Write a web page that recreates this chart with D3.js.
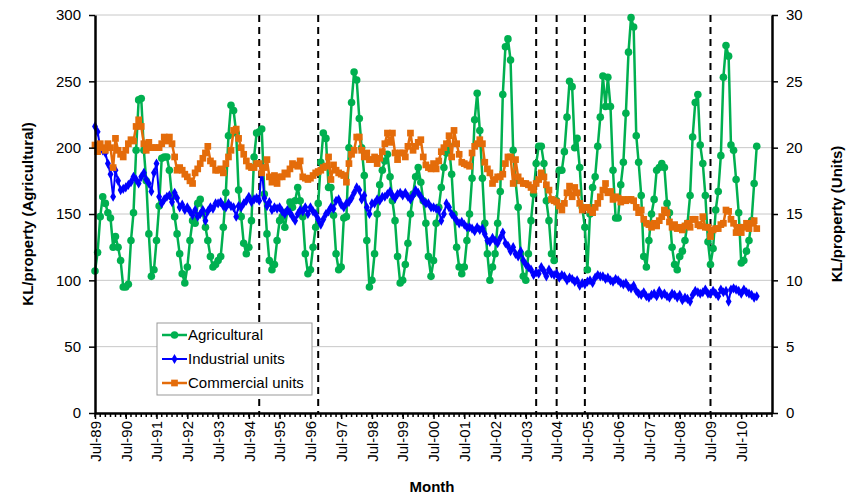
<!DOCTYPE html>
<html>
<head>
<meta charset="utf-8">
<script src="https://cdn.jsdelivr.net/npm/d3@7"></script>
<style>
  body { margin: 0; background: #fff; }
  svg { font-family: "Liberation Sans", Arial, sans-serif; }
</style>
</head>
<body>
<div id="chart"></div>
<script>
// monthly categories, Jul-89 .. Jan-11
const months = d3.timeMonth.range(new Date(1989, 6, 1), new Date(2011, 1, 1));

// KL/property, left axis
const agricultural = [
  107, 121, 148, 163, 158, 151, 147, 125, 133, 125, 115, 95,
  95, 97, 130, 151, 198, 236, 237, 198, 175, 135, 103, 108,
  130, 156, 192, 193, 193, 183, 163, 148, 135, 120, 105, 98,
  110, 130, 145, 143, 158, 161, 151, 140, 130, 118, 110, 112,
  115, 118, 140, 166, 209, 232, 228, 211, 168, 148, 128, 120,
  125, 145, 193, 211, 212, 214, 165, 135, 115, 108, 112, 130,
  145, 148, 140, 152, 159, 155, 160, 170, 160, 148, 120, 105,
  108, 125, 140, 158, 189, 211, 207, 170, 170, 149, 120, 108,
  110, 147, 148, 200, 234, 257, 251, 222, 200, 179, 130, 95,
  100, 120, 150, 172, 183, 190, 195, 178, 160, 145, 118, 98,
  100, 112, 128, 150, 165, 178, 185, 174, 160, 143, 118, 103,
  115, 143, 155, 170, 185, 196, 201, 180, 150, 125, 110, 105,
  110, 130, 150, 177, 221, 241, 213, 177, 143, 120, 100, 110,
  120, 143, 167, 240, 276, 282, 266, 198, 175, 155, 120, 103,
  100, 120, 145, 165, 188, 201, 201, 188, 160, 145, 120, 115,
  160, 183, 183, 197, 223, 250, 246, 200, 207, 185, 155, 140,
  108, 150, 170, 178, 201, 223, 254, 231, 253, 231, 183, 147,
  147, 172, 189, 226, 272, 298, 291, 209, 189, 164, 118, 110,
  130, 150, 161, 183, 185, 188, 185, 158, 151, 125, 112, 108,
  118, 122, 130, 143, 164, 208, 234, 240, 202, 188, 164, 129,
  112, 124, 153, 167, 194, 253, 277, 269, 202, 198, 176, 151,
  113, 115, 122, 130, 145, 173, 201
];

// KL/property, right axis
const industrial = [
  21.6, 21.2, 20.0, 19.8, 19.6, 18.8, 18.0, 16.3, 18.3, 17.5, 16.8, 16.9,
  17.0, 17.2, 17.4, 17.8, 17.6, 17.3, 17.8, 18.1, 17.6, 17.3, 16.7, 18.1,
  18.8, 16.3, 15.8, 16.1, 16.3, 16.4, 15.9, 16.6, 16.2, 15.5, 15.7, 15.3,
  15.5, 15.2, 14.9, 15.3, 14.8, 15.0, 15.3, 14.5, 15.2, 15.5, 15.4, 15.8,
  15.8, 15.9, 15.6, 15.5, 15.8, 15.6, 15.5, 14.8, 15.6, 15.5, 15.8, 16.0,
  16.3, 15.9, 16.1, 16.2, 16.0, 18.5, 16.2, 15.6, 15.9, 15.3, 15.5, 15.4,
  15.5, 15.2, 15.0, 15.3, 15.1, 14.8, 14.5, 15.0, 15.3, 15.2, 15.5, 15.0,
  15.5, 15.2, 15.0, 14.6, 14.2, 14.6, 15.0, 15.2, 15.5, 15.4, 16.0, 16.1,
  15.7, 15.5, 15.8, 15.9, 16.2, 16.6, 17.0, 16.8, 16.1, 16.4, 15.5, 15.0,
  15.8, 15.8, 16.1, 16.0, 16.3, 16.3, 16.5, 16.7, 16.4, 16.2, 16.5, 16.6,
  16.4, 16.6, 16.3, 16.1, 16.4, 16.8, 16.6, 16.3, 16.0, 15.8, 15.8, 15.5,
  15.5, 15.4, 15.3, 14.5, 15.0, 15.8, 15.5, 15.0, 14.8, 14.5, 14.3, 14.4,
  14.2, 14.0, 14.0, 13.9, 13.7, 14.0, 13.8, 13.9, 13.5, 13.0, 12.9, 13.2,
  13.0, 12.8, 13.2, 13.6, 12.8, 12.6, 12.2, 12.5, 12.0, 11.8, 12.2, 11.5,
  11.2, 11.0, 10.8, 10.4, 10.6, 10.5, 11.0, 10.7, 10.3, 10.8, 10.5, 10.4,
  10.5, 10.2, 10.4, 10.3, 10.0, 10.2, 10.1, 9.9, 10.0, 9.6, 9.8, 9.7,
  9.9, 10.0, 9.8, 10.2, 10.4, 10.3, 10.3, 10.1, 10.2, 10.0, 9.9, 10.1,
  10.0, 9.8, 9.7, 9.8, 9.5, 9.4, 9.6, 9.2, 9.0, 8.9, 9.1, 8.8,
  8.7, 8.9, 9.0, 8.8, 9.2, 8.9, 9.0, 8.8, 8.7, 9.0, 8.9, 8.7,
  8.9, 8.5, 8.7, 8.6, 8.4, 8.9, 9.2, 9.1, 9.0, 9.1, 9.3, 9.0,
  9.0, 9.2, 9.0, 8.8, 9.3, 9.1, 9.2, 8.4, 9.3, 9.4, 9.3, 9.2,
  9.0, 9.3, 9.1, 9.0, 8.9, 8.7, 8.8
];

const commercial = [
  20.2, 19.7, 20.3, 20.0, 19.8, 20.3, 20.0, 18.5, 20.7, 19.8, 19.5, 19.3,
  19.8, 20.3, 20.6, 20.5, 21.6, 22.1, 21.6, 20.3, 19.8, 20.4, 20.0, 20.0,
  20.0, 20.0, 20.3, 20.8, 20.5, 20.8, 20.3, 19.3, 18.3, 18.5, 18.3, 18.0,
  17.8, 17.5, 17.3, 18.1, 18.4, 18.8, 19.2, 19.6, 20.1, 19.0, 18.8, 18.3,
  18.3, 18.4, 18.1, 18.8, 19.3, 19.8, 21.3, 21.4, 20.7, 20.0, 19.5, 19.0,
  18.6, 18.5, 18.5, 18.8, 18.8, 18.1, 18.5, 19.1, 17.8, 17.4, 17.9, 17.3,
  17.8, 17.8, 18.1, 18.0, 18.4, 18.8, 18.7, 18.6, 19.0, 17.8, 17.7, 17.6,
  17.7, 17.9, 18.1, 18.2, 18.3, 18.5, 18.6, 19.3, 17.6, 18.7, 18.3, 18.1,
  18.0, 17.9, 17.4, 18.8, 19.5, 19.8, 20.8, 20.8, 19.8, 19.3, 19.6, 19.1,
  19.1, 19.3, 18.8, 19.2, 19.7, 20.3, 21.1, 20.4, 21.1, 19.6, 19.1, 19.6,
  19.6, 19.3, 20.1, 21.1, 19.8, 20.1, 20.4, 20.6, 19.3, 18.7, 18.5, 18.4,
  18.8, 18.4, 19.0, 19.7, 20.0, 20.3, 20.9, 19.3, 21.3, 20.3, 19.5, 18.9,
  18.8, 18.7, 18.6, 19.6, 20.1, 20.3, 20.6, 20.3, 18.9, 18.4, 18.1, 17.3,
  17.6, 17.8, 17.8, 18.0, 18.8, 19.3, 19.3, 17.3, 19.1, 17.8, 17.5, 17.3,
  17.3, 17.2, 17.0, 16.8, 17.3, 17.6, 18.1, 17.8, 17.2, 16.8, 16.1, 16.0,
  15.9, 15.6, 15.3, 15.8, 16.6, 17.1, 16.3, 17.0, 16.6, 15.8, 15.3, 15.5,
  15.5, 15.3, 15.1, 15.5, 15.8, 16.3, 16.8, 17.3, 16.6, 16.7, 16.1, 16.3,
  16.2, 15.9, 16.1, 16.0, 16.1, 16.1, 16.0, 15.5, 15.1, 15.3, 14.6, 14.3,
  14.2, 14.0, 14.3, 14.1, 14.5, 14.8, 15.3, 15.1, 14.4, 14.0, 14.2, 13.9,
  14.0, 13.8, 14.1, 14.3, 14.0, 14.6, 14.6, 14.2, 14.1, 14.8, 14.0, 14.0,
  13.3, 13.8, 13.9, 13.9, 14.2, 14.3, 15.3, 15.2, 14.6, 14.3, 13.6, 14.0,
  13.6, 14.0, 14.3, 13.9, 14.3, 14.5, 13.9
];

// months marked with vertical dashed lines
const eventMonths = ['1994-11', '1996-10', '2003-11', '2004-07', '2005-06', '2009-07'];

const leftTicks = [0, 50, 100, 150, 200, 250, 300];
const rightTicks = [0, 5, 10, 15, 20, 25, 30];

const width = 854;
const height = 497;
const margin = { top: 15, right: 82, bottom: 84, left: 95 };

const svg = d3.select('#chart')
  .append('svg')
  .attr('width', width)
  .attr('height', height);

const x = d3.scaleTime()
  .domain([new Date(1989, 6, 1), new Date(2011, 6, 1)])
  .range([margin.left, width - margin.right]);

const yL = d3.scaleLinear()
  .domain([0, 300])
  .range([height - margin.bottom, margin.top]);

const yR = d3.scaleLinear()
  .domain([0, 30])
  .range([height - margin.bottom, margin.top]);

const x0 = x.range()[0], x1 = x.range()[1];
const yBottom = yL(0);

// gridlines
svg.append('g')
  .selectAll('line')
  .data(leftTicks.slice(1))
  .join('line')
  .attr('x1', x0).attr('x2', x1)
  .attr('y1', d => yL(d)).attr('y2', d => yL(d))
  .attr('stroke', '#c8c8c8')
  .attr('stroke-width', 1);

// dashed event lines
const parseMonth = d3.timeParse('%Y-%m');
svg.append('g')
  .selectAll('line')
  .data(eventMonths)
  .join('line')
  .attr('x1', d => x(parseMonth(d))).attr('x2', d => x(parseMonth(d)))
  .attr('y1', yL(300)).attr('y2', yBottom)
  .attr('stroke', '#000')
  .attr('stroke-width', 2)
  .attr('stroke-dasharray', '7,5');

// series
const series = [
  { name: 'Agricultural', values: agricultural, y: yL, color: '#00b050', width: 2.5, symbol: d3.symbolCircle, size: 45 },
  { name: 'Industrial units', values: industrial, y: yR, color: '#0000ff', width: 2, symbol: d3.symbolDiamond, size: 30 },
  { name: 'Commercial units', values: commercial, y: yR, color: '#e46c0a', width: 2.5, symbol: d3.symbolSquare, size: 45 }
];

series.forEach(s => {
  const line = d3.line()
    .x((d, i) => x(months[i]))
    .y(d => s.y(d));

  svg.append('path')
    .datum(s.values)
    .attr('fill', 'none')
    .attr('stroke', s.color)
    .attr('stroke-width', s.width)
    .attr('stroke-linejoin', 'round')
    .attr('d', line);

  svg.append('g')
    .selectAll('path')
    .data(s.values)
    .join('path')
    .attr('transform', (d, i) => `translate(${x(months[i])},${s.y(d)})`)
    .attr('d', d3.symbol().type(s.symbol).size(s.size))
    .attr('fill', s.color);
});

// axes
const fontSize = '15px';

const leftAxis = svg.append('g')
  .attr('transform', `translate(${x0},0)`)
  .call(d3.axisLeft(yL).tickValues(leftTicks).tickSize(6).tickSizeOuter(0).tickPadding(8));

const rightAxis = svg.append('g')
  .attr('transform', `translate(${x1},0)`)
  .call(d3.axisRight(yR).tickValues(rightTicks).tickSize(6).tickSizeOuter(0).tickPadding(8));

const julys = months.filter(d => d.getMonth() === 6);
const minorMonths = d3.timeMonth.range(new Date(1989, 6, 1), new Date(2011, 6, 2), 2);

svg.append('g')
  .selectAll('line')
  .data(minorMonths)
  .join('line')
  .attr('x1', d => x(d)).attr('x2', d => x(d))
  .attr('y1', yBottom).attr('y2', yBottom + 4)
  .attr('stroke', '#000')
  .attr('stroke-width', 1.5);

const bottomAxis = svg.append('g')
  .attr('transform', `translate(0,${yBottom})`)
  .call(d3.axisBottom(x).tickValues(julys).tickFormat(d3.timeFormat('%b-%y')).tickSize(6).tickSizeOuter(0));

bottomAxis.selectAll('text')
  .attr('transform', 'rotate(-90)')
  .attr('text-anchor', 'end')
  .attr('x', -8)
  .attr('y', 0)
  .attr('dy', '0.35em');

[leftAxis, rightAxis, bottomAxis].forEach(a => {
  a.select('.domain').attr('stroke', '#000').attr('stroke-width', 2.5);
  a.selectAll('.tick line').attr('stroke', '#000').attr('stroke-width', 1.5);
  a.selectAll('text')
    .attr('fill', '#000')
    .style('font-size', fontSize)
    .style('font-family', '"Liberation Sans", Arial, sans-serif');
});

// axis titles
svg.append('text')
  .attr('transform', `translate(33,${(yL(0) + yL(300)) / 2}) rotate(-90)`)
  .attr('text-anchor', 'middle')
  .style('font-size', fontSize)
  .style('font-weight', 'bold')
  .text('KL/property (Agricultural)');

svg.append('text')
  .attr('transform', `translate(842,${(yL(0) + yL(300)) / 2}) rotate(-90)`)
  .attr('text-anchor', 'middle')
  .style('font-size', fontSize)
  .style('font-weight', 'bold')
  .text('KL/property (Units)');

svg.append('text')
  .attr('x', 432)
  .attr('y', 492)
  .attr('text-anchor', 'middle')
  .style('font-size', fontSize)
  .style('font-weight', 'bold')
  .text('Month');

// legend
const legend = svg.append('g').attr('transform', 'translate(157,323)');
legend.append('rect')
  .attr('width', 155).attr('height', 72)
  .attr('fill', '#fff')
  .attr('stroke', '#999');

const item = legend.selectAll('g')
  .data(series)
  .join('g')
  .attr('transform', (d, i) => `translate(0,${12 + i * 24})`);

item.append('line')
  .attr('x1', 5).attr('x2', 30)
  .attr('stroke', d => d.color)
  .attr('stroke-width', d => d.width);

item.append('path')
  .attr('transform', 'translate(17.5,0)')
  .attr('d', d => d3.symbol().type(d.symbol).size(d.size)())
  .attr('fill', d => d.color);

item.append('text')
  .attr('x', 31)
  .attr('dy', '0.35em')
  .style('font-size', fontSize)
  .text(d => d.name);
</script>
</body>
</html>
